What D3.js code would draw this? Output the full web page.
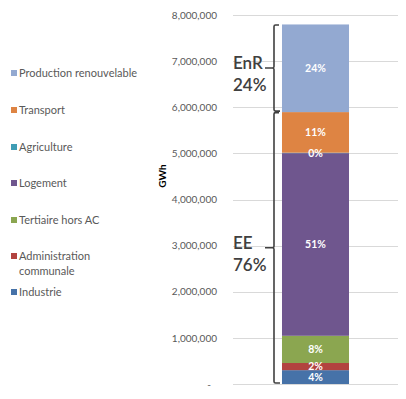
<!DOCTYPE html>
<html>
<head>
<meta charset="utf-8">
<script src="https://cdn.jsdelivr.net/npm/d3@7"></script>
<style>
  html, body { margin: 0; padding: 0; background: #fff; }
  svg { display: block; }
</style>
</head>
<body>
<div id="chart"></div>
<script>
// ---- Data ----
const categories = ["Industrie", "Administration communale", "Tertiaire hors AC", "Logement", "Agriculture", "Transport", "Production renouvelable"];
const values = [300000, 155000, 590000, 3960000, 10000, 880000, 1900000];
const colors = ["#4672A8", "#B2433F", "#8BA650", "#6F568E", "#3F9DB5", "#DE8443", "#93A9D1"];
const legendLabels = [["Production renouvelable"], ["Transport"], ["Agriculture"], ["Logement"], ["Tertiaire hors AC"], ["Administration", "communale"], ["Industrie"]];
const tickValues = [0, 1000000, 2000000, 3000000, 4000000, 5000000, 6000000, 7000000, 8000000];
const groups = [
  { label: ["EnR", "24%"], from: 6, to: 6 },
  { label: ["EE", "76%"], from: 0, to: 5 }
];

const W = 406, H = 399;
const font = "Lato, 'Open Sans', 'Liberation Sans', sans-serif";
const svg = d3.select("#chart").append("svg").attr("width", W).attr("height", H)
  .style("font-family", font);

const y = d3.scaleLinear().domain([0, 8000000]).range([384, 15]);
const x = d3.scaleBand().domain(["Total"]).range([233, 398]).paddingInner(0).paddingOuter(0.731);

// gridlines
svg.append("g").selectAll("line").data(tickValues).join("line")
  .attr("x1", 233).attr("x2", 398)
  .attr("y1", d => Math.round(y(d)) + 0.5).attr("y2", d => Math.round(y(d)) + 0.5)
  .attr("stroke", "#d9d9d9").attr("stroke-width", 1);

// axis
const fmt = d3.format(",");
const axis = d3.axisLeft(y).tickValues(tickValues).tickSize(0).tickPadding(0)
  .tickFormat(d => d === 0 ? "-" : fmt(d));
const ax = svg.append("g").attr("transform", "translate(217,0)").call(axis);
ax.select(".domain").remove();
ax.selectAll("text").attr("fill", "#595959").style("font-size", "10px").style("font-family", font);
ax.selectAll(".tick").filter(d => d === 0).select("text").attr("dx", -6);

// axis title
svg.append("text").attr("transform", "translate(166,176) rotate(-90)")
  .attr("text-anchor", "middle").style("font-size", "10px").style("font-weight", "bold")
  .attr("fill", "#000").text("GWh");

// stacked
const total = d3.sum(values);
let acc = 0;
const segs = values.map((v, i) => { const s = { i, y0: acc, y1: acc + v, v }; acc += v; return s; });
const bx = x("Total"), bw = x.bandwidth();
svg.append("g").selectAll("rect").data(segs).join("rect")
  .attr("x", bx).attr("width", bw)
  .attr("y", d => y(d.y1)).attr("height", d => y(d.y0) - y(d.y1))
  .attr("fill", d => colors[d.i]);

// labels
svg.append("g").selectAll("text").data(segs).join("text")
  .attr("x", bx + bw / 2)
  .attr("y", d => (y(d.y0) + y(d.y1)) / 2)
  .attr("dy", "0.35em")
  .attr("text-anchor", "middle")
  .attr("fill", "#fff").style("font-size", "10.5px").style("font-weight", "bold")
  .text(d => Math.round(d.v / total * 100) + "%");

// braces
const bxL = 274;
groups.forEach(g => {
  const top = y(segs[g.to].y1) + 0.5;
  const bot = y(segs[g.from].y0) - 1;
  const mid = (top + bot) / 2;
  const p = d3.path();
  p.moveTo(bxL + 5, top);
  p.lineTo(bxL + 1.5, top);
  p.quadraticCurveTo(bxL, top, bxL, top + 1.5);
  p.lineTo(bxL, mid - 1.5);
  p.quadraticCurveTo(bxL, mid, bxL - 1.5, mid);
  p.lineTo(bxL - 9, mid);
  p.moveTo(bxL - 1.5, mid);
  p.quadraticCurveTo(bxL, mid, bxL, mid + 1.5);
  p.lineTo(bxL, bot - 1.5);
  p.quadraticCurveTo(bxL, bot, bxL + 1.5, bot);
  p.lineTo(bxL + 6, bot);
  svg.append("path").attr("d", p.toString()).attr("fill", "none")
    .attr("stroke", "#404040").attr("stroke-width", 1.6);
  svg.append("text").attr("x", 233).attr("y", mid + 1)
    .attr("fill", "#404040").style("font-size", "17px").style("font-weight", 600)
    .text(g.label[0]);
  svg.append("text").attr("x", 233).attr("y", mid + 23)
    .attr("fill", "#404040").style("font-size", "17px").style("font-weight", 600)
    .text(g.label[1]);
});

// legend
const legendY = [73, 110, 147, 183, 220, 256, 292];
const legendColorIdx = [6, 5, 4, 3, 2, 1, 0];
const lg = svg.append("g");
legendLabels.forEach((lines, k) => {
  const yy = legendY[k];
  lg.append("rect").attr("x", 11).attr("y", yy - 3).attr("width", 6).attr("height", 6)
    .attr("fill", colors[legendColorIdx[k]]);
  lines.forEach((t, j) => {
    lg.append("text").attr("x", 19).attr("y", yy + j * 15).attr("dy", "0.35em")
      .attr("fill", "#595959").style("font-size", "11px").text(t);
  });
});
</script>
</body>
</html>
